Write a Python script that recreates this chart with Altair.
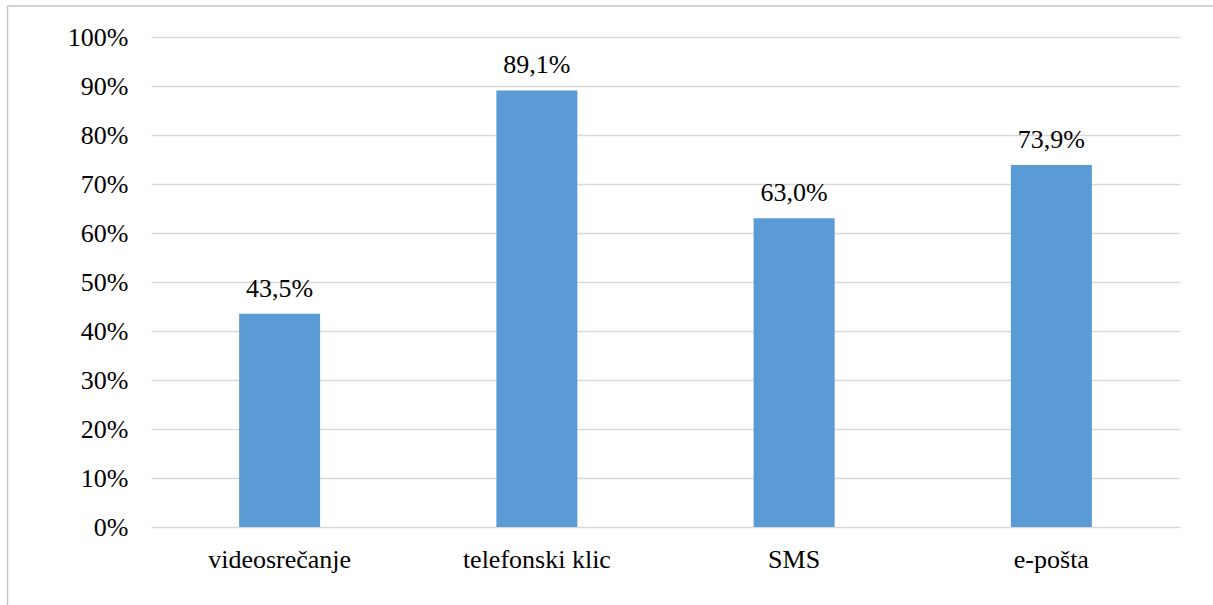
import altair as alt
import pandas as pd

# Share of respondents by contact channel (%)
categories = ["videosrečanje", "telefonski klic", "SMS", "e-pošta"]
values = [43.5, 89.1, 63.0, 73.9]
y_ticks = [0, 10, 20, 30, 40, 50, 60, 70, 80, 90, 100]

df = pd.DataFrame({"kanal": categories, "delez": values})

FONT = "Liberation Serif"
BAR_COLOR = "#5B9BD5"
GRID_COLOR = "#D9D9D9"

x_enc = alt.X(
    "kanal:N",
    sort=categories,
    scale=alt.Scale(paddingInner=0, paddingOuter=0),
    axis=alt.Axis(
        title=None,
        labelAngle=0,
        labelFont=FONT,
        labelFontSize=26,
        labelColor="black",
        labelPadding=19,
        labelLimit=0,
        domain=False,
        ticks=False,
    ),
)
y_enc = alt.Y(
    "delez:Q",
    scale=alt.Scale(domain=[0, 100], nice=False),
    axis=alt.Axis(
        title=None,
        values=y_ticks,
        labelExpr="datum.value + '%'",
        labelFont=FONT,
        labelFontSize=26,
        labelColor="black",
        labelPadding=23,
        domain=False,
        ticks=False,
        grid=True,
        gridColor=GRID_COLOR,
        gridWidth=1.5,
    ),
)

base = alt.Chart(df).encode(x=x_enc, y=y_enc)

bars = base.mark_bar(size=81, color=BAR_COLOR)

labels = base.transform_calculate(
    lab="replace(format(datum.delez, '.1f'), '.', ',') + '%'"
).mark_text(
    font=FONT, fontSize=26, color="black", baseline="alphabetic", dy=-17
).encode(text="lab:N")

# thin frame along the top and left edges of the figure
frame_src = alt.Chart(pd.DataFrame({"k": [0]}))
frame_left = frame_src.mark_rule(color="#C6C6C6", strokeWidth=1.5).encode(
    x=alt.value(-143.5), y=alt.value(-31), y2=alt.value(568)
)
frame_top = frame_src.mark_rule(color="#C6C6C6", strokeWidth=1.5).encode(
    x=alt.value(-143.5), x2=alt.value(1062), y=alt.value(-31)
)

chart = (
    alt.layer(bars, labels, frame_left, frame_top)
    .properties(
        width=1029,
        height=490,
        autosize=alt.AutoSizeParams(type="none"),
        padding={"left": 151, "top": 37, "right": 33, "bottom": 78},
        background="white",
    )
    .configure_view(stroke=None)
)

chart.save("out.html", embed_options={"renderer": "svg", "actions": False})
